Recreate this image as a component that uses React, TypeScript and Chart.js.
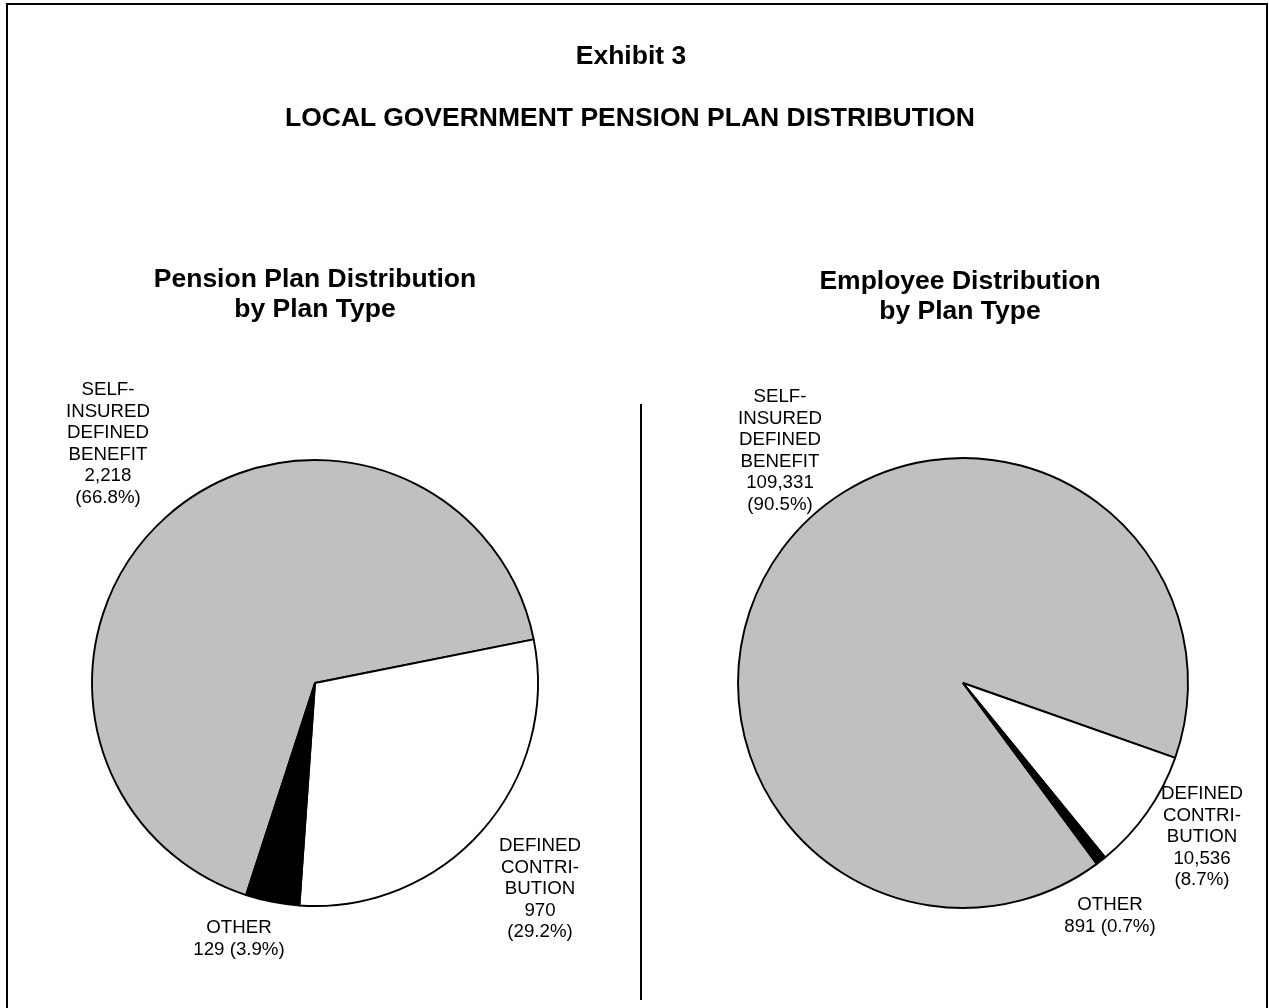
import React, { useEffect, useRef } from "react";
import { Chart, registerables } from "chart.js";

Chart.register(...registerables);

const FONT = '"Liberation Sans", Arial, Helvetica, sans-serif';

// ---------- data ----------
const categories = ["SELF-INSURED DEFINED BENEFIT", "DEFINED CONTRIBUTION", "OTHER"];
const categoryLines = [
  ["SELF-", "INSURED", "DEFINED", "BENEFIT"],
  ["DEFINED", "CONTRI-", "BUTION"],
  ["OTHER"],
];
const sliceColors = ["#c0c0c0", "#ffffff", "#000000"];

const planTitle = ["Pension Plan Distribution", "by Plan Type"];
const planValues = [2218, 970, 129];
const planPercents = ["66.8%", "29.2%", "3.9%"];

const employeeTitle = ["Employee Distribution", "by Plan Type"];
const employeeValues = [109331, 10536, 891];
const employeePercents = ["90.5%", "8.7%", "0.7%"];

const pageTitle = "Exhibit 3";
const pageSubtitle = "LOCAL GOVERNMENT PENSION PLAN DISTRIBUTION";

// ---------- label builder ----------
function buildLines(i: number, values: number[], percents: string[], inline: boolean): string[] {
  const v = values[i].toLocaleString("en-US");
  const p = `(${percents[i]})`;
  return inline ? [...categoryLines[i], `${v} ${p}`] : [...categoryLines[i], v, p];
}

const pieTextPlugin = {
  id: "pieText",
  afterDatasetsDraw(chart: any, _args: any, opts: any) {
    const arc = chart.getDatasetMeta(0).data[0];
    if (!arc) return;
    const cx = arc.x;
    const cy = arc.y;
    const ctx = chart.ctx;
    ctx.save();
    ctx.fillStyle = "#000";
    ctx.textAlign = "center";
    ctx.textBaseline = "alphabetic";
    ctx.font = `bold ${opts.titleSize}px ${FONT}`;
    (opts.title as string[]).forEach((t, i) =>
      ctx.fillText(t, cx + opts.titleDx, cy + opts.titleDy + i * opts.titleLH)
    );
    ctx.font = `${opts.labelSize}px ${FONT}`;
    (opts.labels as any[]).forEach((lab) => {
      (lab.lines as string[]).forEach((t, i) =>
        ctx.fillText(t, cx + lab.dx, cy + lab.dy + i * opts.labelLH)
      );
    });
    ctx.restore();
  },
};

type PieProps = {
  left: number;
  width: number;
  values: number[];
  percents: string[];
  title: string[];
  radius: number;
  rotation: number;
  padding: { left: number; right: number; top: number; bottom: number };
  titleDx: number;
  titleDy: number;
  labelOffsets: { dx: number; dy: number; inline: boolean }[];
};

function PieChart(p: PieProps) {
  const ref = useRef<HTMLCanvasElement | null>(null);
  useEffect(() => {
    if (!ref.current) return;
    const chart = new Chart(ref.current, {
      type: "pie",
      data: {
        labels: categories,
        datasets: [
          {
            data: p.values,
            backgroundColor: sliceColors,
            borderColor: "#000000",
            borderWidth: 1.9,
            hoverOffset: 0,
          },
        ],
      },
      options: {
        responsive: false,
        animation: false,
        events: [],
        rotation: p.rotation,
        radius: p.radius,
        layout: { padding: p.padding },
        plugins: {
          legend: { display: false },
          tooltip: { enabled: false },
          title: { display: false },
          pieText: {
            title: p.title,
            titleSize: 26.5,
            titleLH: 30,
            titleDx: p.titleDx,
            titleDy: p.titleDy,
            labelSize: 18.7,
            labelLH: 21.6,
            labels: p.labelOffsets.map((o, i) => ({
              dx: o.dx,
              dy: o.dy,
              lines: buildLines(i, p.values, p.percents, o.inline),
            })),
          },
        } as any,
      },
      plugins: [pieTextPlugin],
    });
    return () => chart.destroy();
  }, []);
  return (
    <canvas
      ref={ref}
      width={p.width}
      height={1008}
      style={{ position: "absolute", left: p.left, top: 0, width: p.width, height: 1008 }}
    />
  );
}

export default function App() {
  return (
    <div
      style={{
        position: "absolute",
        left: 0,
        top: 0,
        width: 1269,
        height: 1008,
        overflow: "hidden",
        background: "#ffffff",
        fontFamily: FONT,
      }}
    >
      <PieChart
        left={0}
        width={640}
        values={planValues}
        percents={planPercents}
        title={planTitle}
        radius={223}
        rotation={198}
        padding={{ left: 0, right: 10, top: 400, bottom: 42 }}
        titleDx={0}
        titleDy={-396}
        labelOffsets={[
          { dx: -207, dy: -288, inline: false },
          { dx: 225, dy: 168, inline: false },
          { dx: -76, dy: 250, inline: true },
        ]}
      />
      <PieChart
        left={640}
        width={629}
        values={employeeValues}
        percents={employeePercents}
        title={employeeTitle}
        radius={225}
        rotation={143.5}
        padding={{ left: 17, right: 0, top: 400, bottom: 42 }}
        titleDx={-3}
        titleDy={-394}
        labelOffsets={[
          { dx: -183, dy: -281, inline: false },
          { dx: 239, dy: 116, inline: false },
          { dx: 147, dy: 227, inline: true },
        ]}
      />
      {/* frame */}
      <div
        style={{
          position: "absolute",
          left: 6,
          top: 3,
          width: 1258,
          height: 1100,
          borderTop: "2px solid #000",
          borderLeft: "2px solid #000",
          borderRight: "2px solid #000",
          pointerEvents: "none",
        }}
      />
      {/* divider */}
      <div
        style={{
          position: "absolute",
          left: 640,
          top: 404,
          width: 2,
          height: 596,
          background: "#000",
        }}
      />
      <div
        style={{
          position: "absolute",
          left: 0,
          top: 42,
          width: 1262,
          textAlign: "center",
          fontWeight: "bold",
          fontSize: 26.5,
          lineHeight: "26px",
          whiteSpace: "nowrap",
        }}
      >
        {pageTitle}
      </div>
      <div
        style={{
          position: "absolute",
          left: 0,
          top: 104,
          width: 1260,
          textAlign: "center",
          fontWeight: "bold",
          fontSize: 26.5,
          lineHeight: "26px",
          whiteSpace: "nowrap",
        }}
      >
        {pageSubtitle}
      </div>
    </div>
  );
}
